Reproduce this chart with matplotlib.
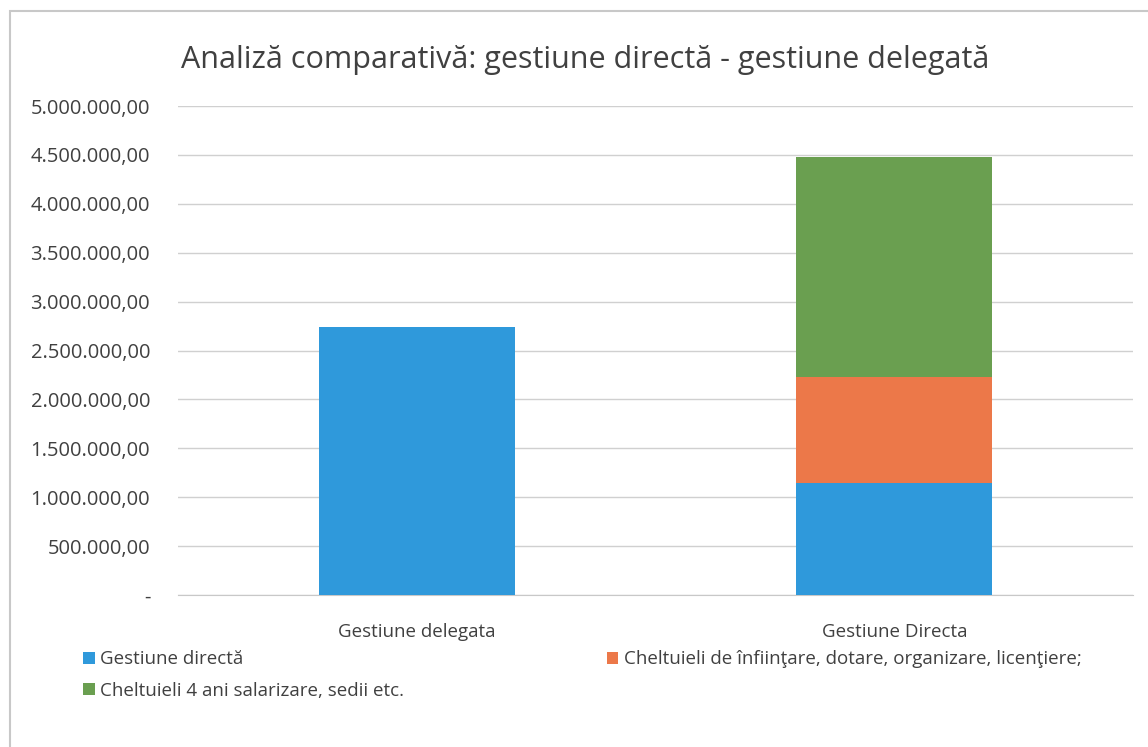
import matplotlib.pyplot as plt
from matplotlib.patches import Rectangle
from matplotlib.ticker import FuncFormatter

categories = ['Gestiune delegata', 'Gestiune Directa']
series_names = ['Gestiune directă',
                'Cheltuieli de înfiinţare, dotare, organizare, licenţiere;',
                'Cheltuieli 4 ani salarizare, sedii etc.']
gestiune = [2740000, 1145000]
infiintare = [0, 1085000]
salarizare = [0, 2250000]
colors = ['#2F99DB', '#EC7849', '#6A9F50']

plt.rcParams['font.family'] = ['Open Sans', 'DejaVu Sans']

fig = plt.figure(figsize=(11.48, 7.47), dpi=100)
ax = fig.add_axes([0.155, 0.2035, 0.832, 0.6545])

x = range(len(categories))
w = 0.41
bottoms2 = [a + b for a, b in zip(gestiune, infiintare)]
b1 = ax.bar(x, gestiune, w, color=colors[0], label=series_names[0], zorder=3)
b2 = ax.bar(x, infiintare, w, bottom=gestiune, color=colors[1], label=series_names[1], zorder=3)
b3 = ax.bar(x, salarizare, w, bottom=bottoms2, color=colors[2], label=series_names[2], zorder=3)

ax.set_xlim(-0.5, 1.5)
ax.set_ylim(0, 5000000)
ax.set_yticks(range(0, 5000001, 500000))


def fmt(v, pos):
    if v == 0:
        return '-'
    s = f'{int(v):,}'.replace(',', '.')
    return s + ',00'


ax.yaxis.set_major_formatter(FuncFormatter(fmt))
ax.set_xticks(list(x))
ax.set_xticklabels(categories)
ax.tick_params(axis='both', length=0, labelcolor='#404040')
ax.tick_params(axis='y', labelsize=14.5, pad=20)
ax.tick_params(axis='x', labelsize=13.5, pad=20)
ax.grid(axis='y', color='#D0D0D0', linewidth=1, zorder=0)
for s in ['left', 'right', 'top']:
    ax.spines[s].set_visible(False)
ax.spines['bottom'].set_color('#C8C8C8')

fig.text(0.51, 0.92, 'Analiză comparativă: gestiune directă - gestiune delegată',
         ha='center', va='center', fontsize=22, color='#404040')

fig.legend(handles=[b1, b3, b2], labels=[series_names[0], series_names[2], series_names[1]],
           ncol=2, loc='upper left', bbox_to_anchor=(0.058, 0.152), frameon=False,
           fontsize=13.5, handlelength=0.6, handleheight=0.6, handletextpad=0.3,
           columnspacing=10.8, labelspacing=0.72, labelcolor='#404040')

fig.patches.append(Rectangle((0.009, -0.01), 1.0, 0.995, transform=fig.transFigure,
                             fill=False, edgecolor='#C8C8C8', linewidth=1.5))

fig.savefig('out.png', dpi=100)
